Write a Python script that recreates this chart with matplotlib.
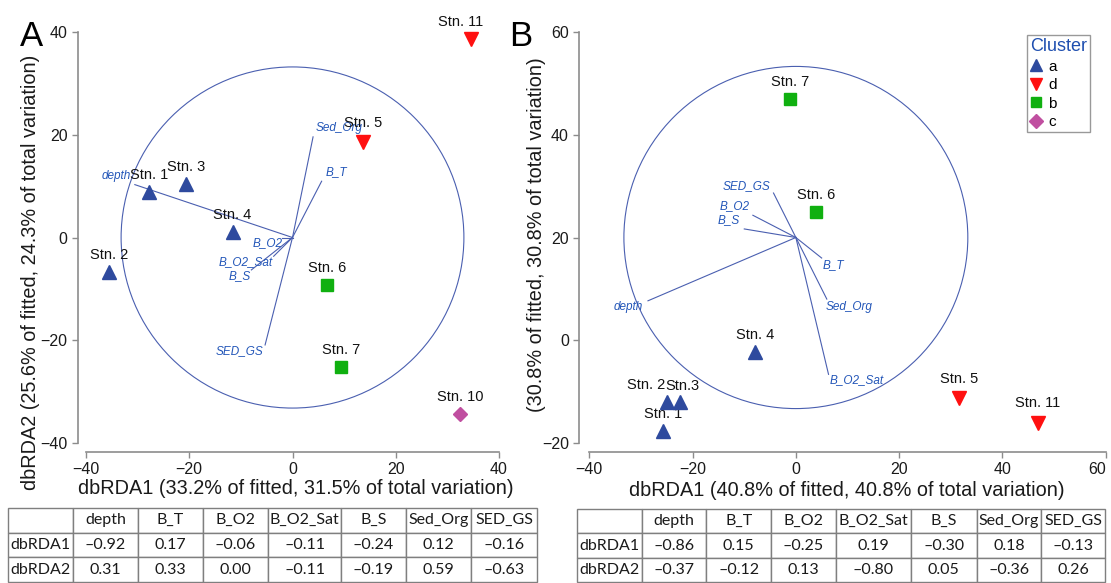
import numpy as np
import matplotlib
matplotlib.use("Agg")
import matplotlib.pyplot as plt
from matplotlib.patches import Circle
from matplotlib.lines import Line2D

plt.rcParams['font.family'] = ['Liberation Sans', 'DejaVu Sans']

# environmental variables and their dbRDA correlations
variables = ['depth', 'B_T', 'B_O2', 'B_O2_Sat', 'B_S', 'Sed_Org', 'SED_GS']
a_rda1 = [-0.92, 0.17, -0.06, -0.11, -0.24, 0.12, -0.16]
a_rda2 = [0.31, 0.33, 0.00, -0.11, -0.19, 0.59, -0.63]
b_rda1 = [-0.86, 0.15, -0.25, 0.19, -0.30, 0.18, -0.13]
b_rda2 = [-0.37, -0.12, 0.13, -0.80, 0.05, -0.36, 0.26]

# station scores, panel A
a_stations = ['Stn. 1', 'Stn. 2', 'Stn. 3', 'Stn. 4', 'Stn. 5', 'Stn. 6', 'Stn. 7', 'Stn. 10', 'Stn. 11']
a_x = [-27.7, -35.6, -20.6, -11.6, 13.7, 6.7, 9.4, 32.5, 34.6]
a_y = [8.8, -6.8, 10.5, 1.0, 18.5, -9.3, -25.2, -34.3, 38.7]
a_cluster = ['a', 'a', 'a', 'a', 'd', 'b', 'b', 'c', 'd']

# station scores, panel B
b_stations = ['Stn. 1', 'Stn. 2', 'Stn.3', 'Stn. 4', 'Stn. 5', 'Stn. 6', 'Stn. 7', 'Stn. 11']
b_x = [-25.8, -25.0, -22.5, -7.9, 31.6, 3.9, -1.2, 46.8]
b_y = [-17.6, -12.0, -12.0, -2.3, -11.2, 25.0, 47.0, -16.2]
b_cluster = ['a', 'a', 'a', 'a', 'd', 'b', 'b', 'd']

clusters = ['a', 'd', 'b', 'c']

# styles
cl_style = {
    'a': dict(marker='^', color='#2e4a9e', ms=9.5),
    'd': dict(marker='v', color='#ff1010', ms=9.5),
    'b': dict(marker='s', color='#10b010', ms=8),
    'c': dict(marker='D', color='#c04fa0', ms=7),
}
VEC_COL = '#4a5fb0'
LAB_COL = '#2356b8'
PX = 0.72  # points per pixel at dpi 100

# label placement relative to vector tip: (ha, dx px, dy px)
a_vlab = {'depth': ('right', -4, 9), 'B_T': ('left', 4, 9), 'B_O2': ('right', 0, -6),
          'B_O2_Sat': ('right', -1, -6), 'B_S': ('right', 0, -6), 'Sed_Org': ('left', 3, 9),
          'SED_GS': ('right', -2, -6)}
b_vlab = {'depth': ('right', -5, -6), 'B_T': ('left', 1, -7), 'B_O2': ('right', -3, 9),
          'B_O2_Sat': ('left', 1, -6), 'B_S': ('right', -4, 9), 'Sed_Org': ('left', -1, -8),
          'SED_GS': ('right', -3, 7)}
# station label offsets (dx px, dy px) if not default
a_slab = {'Stn. 11': (-10, 17), 'Stn. 5': (0, 19)}
b_slab = {'Stn. 2': (-21, 17), 'Stn.3': (3, 16), 'Stn. 5': (0, 19), 'Stn. 11': (0, 20)}

W, H = 1111, 583
fig = plt.figure(figsize=(W / 100, H / 100), dpi=100)


def fx(px):
    return px / W


def fy(py):
    return 1 - py / H


def style_axes(ax, xlim, ylim, xt, yt, left_off):
    ax.set_xlim(*xlim)
    ax.set_ylim(*ylim)
    ax.set_xticks(xt)
    ax.set_yticks(yt)
    for s in ['top', 'right']:
        ax.spines[s].set_visible(False)
    ax.spines['left'].set_position(('outward', left_off * PX))
    ax.spines['bottom'].set_position(('outward', 9 * PX))
    ax.spines['left'].set_bounds(ylim[0], ylim[1])
    ax.spines['bottom'].set_bounds(xlim[0], xlim[1])
    for s in ['left', 'bottom']:
        ax.spines[s].set_color('#8c8c8c')
        ax.spines[s].set_linewidth(1.2)
    ax.tick_params(colors='#8c8c8c', labelcolor='#1a1a1a', labelsize=11.5, length=4, width=1)
    ax.patch.set_visible(False)


def draw_panel(ax, rda1, rda2, centre, radius, vlab, sx, sy, names, cl, slab):
    ax.add_patch(Circle(centre, radius, fill=False, ec=VEC_COL, lw=0.8, clip_on=False))
    for v, c1, c2 in zip(variables, rda1, rda2):
        tx, ty = centre[0] + c1 * radius, centre[1] + c2 * radius
        ax.plot([centre[0], tx], [centre[1], ty], color=VEC_COL, lw=0.8)
        ha, dx, dy = vlab[v]
        ax.annotate(v, (tx, ty), xytext=(dx * PX, dy * PX), textcoords='offset points',
                    ha=ha, va='center', fontsize=8.5, style='italic', color=LAB_COL)
    for n, x, y, c in zip(names, sx, sy, cl):
        st = cl_style[c]
        ax.plot(x, y, linestyle='none', marker=st['marker'], color=st['color'],
                ms=st['ms'], mec=st['color'], clip_on=False, zorder=5)
        dx, dy = slab.get(n, (0, 17))
        ax.annotate(n, (x, y), xytext=(dx * PX, dy * PX), textcoords='offset points',
                    ha='center', va='center', fontsize=10.5, color='#111111',
                    annotation_clip=False)


# panel A
axA = fig.add_axes([fx(86), fy(443), fx(499 - 86), (443 - 32) / H])
style_axes(axA, (-40, 40), (-40, 40), [-40, -20, 0, 20, 40], [-40, -20, 0, 20, 40], 8)
draw_panel(axA, a_rda1, a_rda2, (0, 0), 33.2, a_vlab, a_x, a_y, a_stations, a_cluster, a_slab)

# panel B
axB = fig.add_axes([fx(589.3), fy(443), fx(1105.7 - 589.3), (443 - 32) / H])
style_axes(axB, (-40, 60), (-20, 60), [-40, -20, 0, 20, 40, 60], [-20, 0, 20, 40, 60], 10)
draw_panel(axB, b_rda1, b_rda2, (0, 20), 33.3, b_vlab, b_x, b_y, b_stations, b_cluster, b_slab)
# last x tick label sits against the right edge
axB.get_xticklabels()[-1].set_horizontalalignment('right')

# panel letters and axis titles
fig.text(fx(32), fy(36), 'A', fontsize=25, ha='center', va='center')
fig.text(fx(521), fy(36), 'B', fontsize=25, ha='center', va='center')
fig.text(fx(296), fy(489), 'dbRDA1 (33.2% of fitted, 31.5% of total variation)',
         fontsize=14.3, ha='center', va='center', color='#1a1a1a')
fig.text(fx(847), fy(491), 'dbRDA1 (40.8% of fitted, 40.8% of total variation)',
         fontsize=14.3, ha='center', va='center', color='#1a1a1a')
fig.text(fx(31), fy(272), 'dbRDA2 (25.6% of fitted, 24.3% of total variation)',
         fontsize=14.3, ha='center', va='center', rotation=90, color='#1a1a1a')
fig.text(fx(537), fy(235), '(30.8% of fitted, 30.8% of total variation)',
         fontsize=14.3, ha='center', va='center', rotation=90, color='#1a1a1a')

# legend
handles = [Line2D([], [], linestyle='none', marker=cl_style[c]['marker'],
                  color=cl_style[c]['color'], ms=cl_style[c]['ms'] * 0.95) for c in clusters]
leg = fig.legend(handles, clusters, loc='upper left', bbox_to_anchor=(fx(1027), fy(35)),
                 title='Cluster', fontsize=11, title_fontsize=13, frameon=True,
                 fancybox=False, edgecolor='#808080', handlelength=0.8, handletextpad=0.4,
                 borderpad=0.2, labelspacing=0.3, borderaxespad=0)
leg.get_title().set_color('#1f4fb0')
leg.get_frame().set_linewidth(1.0)
leg._legend_box.align = 'left'


# tables
def fmt(v):
    return f"{v:.2f}".replace('-', '\u2013')


def draw_table(x0, x1, y0, y1, widths, rda1, rda2):
    axt = fig.add_axes([fx(x0), fy(y1), fx(x1 - x0), (y1 - y0) / H])
    axt.axis('off')
    cells = [[''] + variables,
             ['dbRDA1'] + [fmt(v) for v in rda1],
             ['dbRDA2'] + [fmt(v) for v in rda2]]
    tot = sum(widths)
    tb = axt.table(cellText=cells, colWidths=[w / tot for w in widths],
                   cellLoc='center', bbox=[0, 0, 1, 1])
    tb.auto_set_font_size(False)
    for (r, c), cell in tb.get_celld().items():
        cell.set_edgecolor('#7f7f7f')
        cell.set_linewidth(1.0)
        t = cell.get_text()
        t.set_fontsize(11.5)
        t.set_fontfamily('Lato')
        t.set_color('#1a1a1a')
    return tb


draw_table(8, 537, 508, 582, [65, 65, 65, 65, 73, 65, 65, 66], a_rda1, a_rda2)
draw_table(577, 1105, 509, 582, [65, 64.4, 64.8, 64.8, 75.1, 65.8, 64.5, 64], b_rda1, b_rda2)

fig.savefig('out.png', dpi=100)
